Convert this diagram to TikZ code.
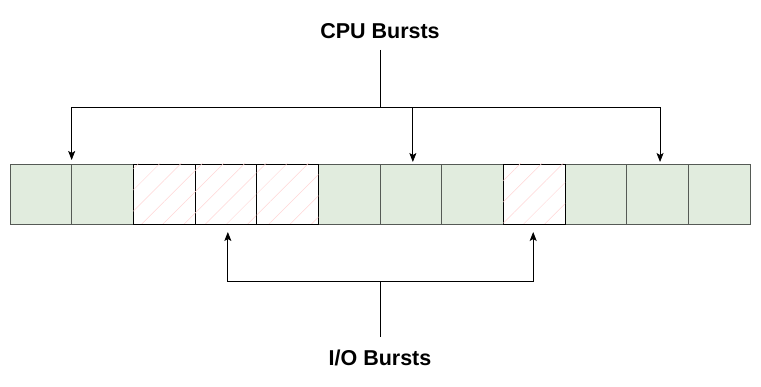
\documentclass[tikz,border=0pt]{standalone}
\usepackage{fontspec}
\setmainfont{Liberation Sans}
\usetikzlibrary{arrows.meta,patterns.meta}
\definecolor{cellgreen}{RGB}{225,236,222}
\definecolor{cellgray}{RGB}{85,90,85}
\definecolor{hatchpink}{RGB}{255,214,214}
\tikzset{
  cell/.style={draw=cellgray, fill=cellgreen, minimum width=61.67pt, minimum height=60pt,
    inner sep=0pt, outer sep=0pt, line width=0.8pt, anchor=north west},
  iocell/.style={cell, draw=black, fill=white,
    postaction={pattern={Lines[angle=45,distance=15pt,line width=0.5pt]}, pattern color=hatchpink}},
  lbl/.style={font=\bfseries\fontsize{21.5}{24}\selectfont, inner sep=0pt},
  conn/.style={line width=0.8pt, draw=black},
  arr/.style={conn, -{Stealth[length=9pt,width=7pt,inset=2pt]}}
}
\begin{document}
\begin{tikzpicture}[x=1pt,y=-1pt]
\useasboundingbox (0,0) rectangle (761,387);
% cells
\foreach \i/\s in {1/cell,2/cell,6/cell,7/cell,8/cell,10/cell,11/cell,12/cell,3/iocell,4/iocell,5/iocell,9/iocell}
  \node[\s] (c\i) at ({10+(\i-1)*61.67},164) {};
% labels
\node[lbl] (cpu) at (380,31) {CPU Bursts};
\node[lbl] (io) at (380,357.5) {I/O Bursts};
% top connectors
\coordinate (cpuend) at (380,50);
\coordinate (jt) at (380,107);
\draw[conn] (cpuend) -- (jt);
\draw[arr, shorten >=4pt] (jt) -| (c1.north east);
\draw[arr, shorten >=2pt] (jt) -| ([xshift=2pt]c7.north);
\draw[arr, shorten >=2pt] (jt) -| ([xshift=2.5pt]c11.north);
% bottom connectors
\coordinate (ioend) at (380,337);
\coordinate (jb) at (380,281);
\draw[conn] (ioend) -- (jb);
\draw[arr, shorten >=8pt] (jb) -| ([xshift=2pt]c4.south);
\draw[arr, shorten >=8pt] (jb) -| ([xshift=-1pt]c9.south);
\end{tikzpicture}
\end{document}
